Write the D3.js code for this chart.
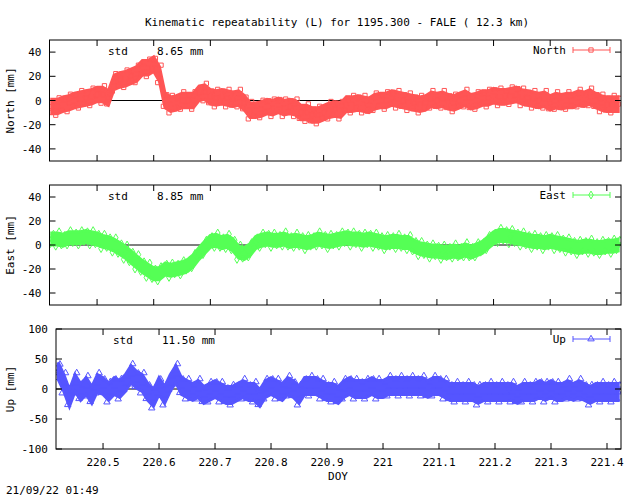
<!DOCTYPE html>
<html><head><meta charset="utf-8">
<script src="https://cdn.jsdelivr.net/npm/d3@7"></script>
<style>body{margin:0;background:#fff}text{font-family:"DejaVu Sans Mono",monospace;font-size:11px;fill:#000}</style>
</head><body><svg id="c" width="640" height="496"></svg>
<script>
const doyStart = 220.42, doyStep = 0.01;
const north = [-5,-5,-3,-2,0,1,2,3,5,5,2,15,17,18,20,22,27,27,30,22,0,-3,-2,0,0,0,6,7,3,2,3,2,1,2,-2,-8,-8,-7,-5,-6,-4,-6,-5,-6,-10,-10,-12,-12,-10,-8,-7,-8,-3,-3,-2,-3,-4,-1,0,0,2,1,0,-1,-2,-3,-2,1,0,1,-1,-2,0,2,-1,0,2,2,4,3,3,4,5,3,2,1,0,1,-2,0,-1,0,0,2,1,3,0,-2,-3,-3,-3];
const east = [5,5,4,6,6,6,7,6,5,3,2,0,-3,-6,-10,-14,-18,-21,-24,-24,-20,-21,-20,-19,-17,-13,-7,-2,3,4,2,3,0,-6,-7,-4,2,4,5,4,4,5,3,4,3,2,3,5,4,3,4,5,6,5,5,4,5,4,3,2,3,3,2,2,-1,-3,-4,-5,-5,-6,-6,-5,-6,-4,-6,-4,-2,2,6,8,8,7,6,5,4,3,3,2,3,2,1,0,-1,-2,-1,-1,-2,-2,-1,-1,0];
const up = [30,10,-15,10,-5,5,-10,10,5,-5,5,0,10,25,15,10,-5,-15,5,-10,10,25,5,0,-5,0,-10,-5,0,-5,-10,-10,-5,0,-5,-5,-15,0,5,0,-5,5,0,-10,5,5,5,0,-5,-5,-10,0,5,0,0,0,5,0,0,5,5,5,5,5,5,5,0,5,5,0,-5,-5,-5,-5,-5,-10,-5,-5,-5,-5,-5,-5,-10,-5,-5,-5,0,-5,0,-5,-5,0,-5,0,-5,-10,-5,-5,-5,-5,-5];
const xTicks = [220.5,220.6,220.7,220.8,220.9,221,221.1,221.2,221.3,221.4];
const yTicksNE = [-40,-20,0,20,40];
const yTicksUp = [-100,-50,0,50,100];
const stdLabels = ["8.65 mm","8.85 mm","11.50 mm"];

const svg = d3.select("#c");
svg.append("text").attr("x",337).attr("y",26).attr("text-anchor","middle").text("Kinematic repeatability (L) for 1195.300 - FALE  ( 12.3 km)");

const panels = [
 {name:"North",data:north,spread:6,color:"#ff5555",top:40,bot:161,left:49.5,dom:[-50,50],ticks:yTicksNE,std:stdLabels[0],sym:d3.symbolSquare},
 {name:"East",data:east,spread:5,color:"#55ff55",top:185,bot:305,left:49.5,dom:[-50,50],ticks:yTicksNE,std:stdLabels[1],sym:d3.symbolDiamond},
 {name:"Up",data:up,spread:14,color:"#5555ff",top:329,bot:449,left:56,dom:[-100,100],ticks:yTicksUp,std:stdLabels[2],sym:d3.symbolTriangle}
];
const right = 621;
panels.forEach((p,pi)=>{
  const x = d3.scaleLinear().domain([220.416,221.425]).range([p.left,right]);
  const y = d3.scaleLinear().domain(p.dom).range([p.bot,p.top]);
  const g = svg.append("g");
  const clip = "cl"+pi;
  g.append("clipPath").attr("id",clip).append("rect").attr("x",p.left).attr("y",p.top).attr("width",right-p.left).attr("height",p.bot-p.top);
  const pts = p.data.map((v,i)=>({t:doyStart+i*doyStep,v}));
  const dg = g.append("g").attr("clip-path",`url(#${clip})`);
  dg.append("line").attr("x1",p.left).attr("x2",right).attr("y1",y(0)).attr("y2",y(0)).attr("stroke","#000");
  dg.append("path").datum(pts).attr("fill",p.color).attr("stroke",p.color).attr("stroke-width",3)
    .attr("d",d3.area().x(d=>x(d.t)).y0(d=>y(d.v-p.spread)).y1(d=>y(d.v+p.spread)));
  const sym = d3.symbol().type(p.sym).size(18);
  [1,-1,0].forEach(k=>{
    dg.selectAll(null).data(pts).join("path")
      .attr("transform",(d,i)=>`translate(${x(d.t+(k*0.003))},${y(d.v+k*p.spread*(i%2?1.2:0.8))})`)
      .attr("d",sym).attr("fill","none").attr("stroke",p.color);
  });
  g.append("rect").attr("x",p.left).attr("y",p.top).attr("width",right-p.left).attr("height",p.bot-p.top).attr("fill","none").attr("stroke","#000");
  p.ticks.forEach(t=>{
    g.append("line").attr("x1",p.left).attr("x2",p.left+6).attr("y1",y(t)).attr("y2",y(t)).attr("stroke","#000");
    g.append("line").attr("x1",right-6).attr("x2",right).attr("y1",y(t)).attr("y2",y(t)).attr("stroke","#000");
    g.append("text").attr("x",p.left-8).attr("y",y(t)+4).attr("text-anchor","end").text(t);
  });
  xTicks.forEach(t=>{
    g.append("line").attr("x1",x(t)).attr("x2",x(t)).attr("y1",p.bot).attr("y2",p.bot-6).attr("stroke","#000");
    g.append("line").attr("x1",x(t)).attr("x2",x(t)).attr("y1",p.top).attr("y2",p.top+6).attr("stroke","#000");
    if(pi===2) g.append("text").attr("x",x(t)).attr("y",p.bot+17).attr("text-anchor","middle").text(t);
  });
  g.append("text").attr("x",p.left===56?113:108).attr("y",p.top+15).text("std");
  g.append("text").attr("x",p.left===56?162:157).attr("y",p.top+15).text(p.std);
  g.append("text").attr("transform",`translate(14,${(p.top+p.bot)/2}) rotate(-90)`).attr("text-anchor","middle").text(p.name+" [mm]");
  const ly = p.top+10;
  g.append("text").attr("x",566).attr("y",ly+4).attr("text-anchor","end").text(p.name);
  g.append("line").attr("x1",573).attr("x2",610).attr("y1",ly).attr("y2",ly).attr("stroke",p.color);
  [573,610].forEach(xx=>g.append("line").attr("x1",xx).attr("x2",xx).attr("y1",ly-3).attr("y2",ly+3).attr("stroke",p.color));
  g.append("path").attr("transform",`translate(591,${ly})`).attr("d",sym).attr("fill","none").attr("stroke",p.color);
});
svg.append("text").attr("x",338).attr("y",480).attr("text-anchor","middle").text("DOY");
svg.append("text").attr("x",6).attr("y",494).text("21/09/22 01:49");
</script></body></html>
